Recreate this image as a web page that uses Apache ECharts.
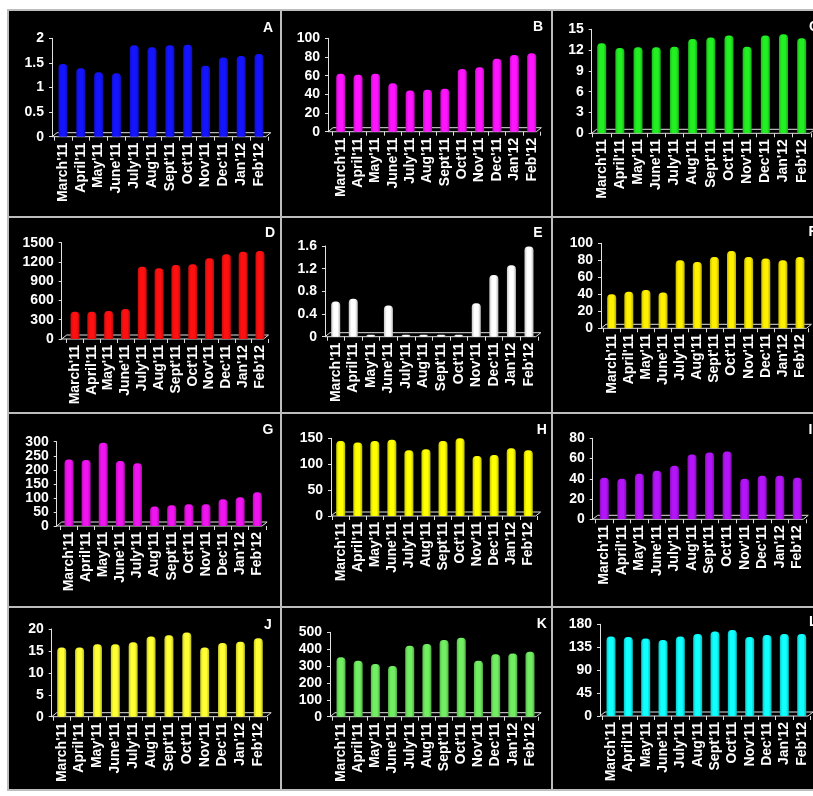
<!DOCTYPE html>
<html>
<head>
<meta charset="utf-8">
<script src="https://cdn.jsdelivr.net/npm/echarts@6/dist/echarts.min.js"></script>
<style>
  html, body { margin: 0; padding: 0; background: #fff; }
  #chart { width: 813px; height: 796px; }
</style>
</head>
<body>
<div id="chart"></div>
<script>
const months = ["March'11", "April'11", "May'11", "June'11", "July'11", "Aug'11", "Sept'11", "Oct'11", "Nov'11", "Dec'11", "Jan'12", "Feb'12"]

const valuesA = [1.48, 1.39, 1.31, 1.29, 1.86, 1.82, 1.86, 1.87, 1.44, 1.61, 1.64, 1.68]
const valuesB = [62, 61, 62, 52, 44, 45, 46, 67, 69, 78, 82, 84]
const valuesC = [13.0, 12.3, 12.4, 12.4, 12.5, 13.6, 13.8, 14.1, 12.5, 14.1, 14.3, 13.7]
const valuesD = [425, 425, 436, 467, 1126, 1101, 1153, 1163, 1257, 1319, 1360, 1371]
const valuesE = [0.62, 0.67, 0, 0.55, 0, 0, 0, 0, 0.59, 1.09, 1.26, 1.59]
const valuesF = [40, 43, 45, 42, 80, 78, 84, 91, 84, 82, 80, 84]
const valuesG = [237, 235, 296, 231, 223, 69, 74, 77, 77, 95, 102, 120]
const valuesH = [145, 142, 145, 147, 127, 129, 145, 156, 116, 118, 131, 127]
const valuesI = [41, 40, 45, 48, 53, 64, 66, 67, 40, 43, 43, 41]
const valuesJ = [15.8, 15.8, 16.5, 16.5, 17.0, 18.3, 18.6, 19.2, 15.8, 16.8, 17.1, 17.9]
const valuesK = [352, 332, 312, 300, 420, 431, 454, 468, 332, 370, 375, 385]
const valuesL = [156, 155, 152, 149, 156, 161, 166, 169, 155, 159, 161, 161]

const panelLetters = ['A', 'B', 'C', 'D', 'E', 'F', 'G', 'H', 'I', 'J', 'K', 'L']
const yMax = [2, 100, 15, 1500, 1.6, 100, 300, 150, 80, 20, 500, 180]
const yStep = [0.5, 20, 3, 300, 0.4, 20, 50, 50, 20, 5, 100, 45]

const allValues = [valuesA, valuesB, valuesC, valuesD, valuesE, valuesF, valuesG, valuesH, valuesI, valuesJ, valuesK, valuesL]
const colors = ['#1414ff', '#ff14ff', '#22f022', '#ff1010', '#ffffff', '#fff000', '#f014f0', '#ffff00', '#b414f8', '#ffff33', '#72ee62', '#10ffff']

// layout per panel: y axis x, first bar x, last bar x, top tick y, zero y, letter x, letter y
const layout = [
  [52, 63, 259, 38.3, 136.7, 268, 28],
  [328, 340.7, 531.7, 38.3, 131.7, 538, 27],
  [591.7, 601.7, 801.7, 29.3, 133.3, 809, 27],
  [61.7, 75, 260, 242.7, 339, 270, 233],
  [325, 335.7, 529, 246, 336.7, 538, 233],
  [601, 611.7, 800, 243.3, 328.3, 808.5, 232],
  [56.7, 69, 257.3, 441.7, 526, 268, 430],
  [331, 340.7, 528.3, 438.3, 516, 541.7, 430],
  [592.7, 604.3, 797.3, 438.3, 519.3, 808.5, 430],
  [51.7, 61.7, 258.3, 629, 716.7, 268, 625],
  [330, 341, 530, 632.3, 716.7, 541.7, 624],
  [600, 611, 801.7, 624.3, 716, 809, 622]
]

const font = 'Liberation Sans, Arial, sans-serif'

function shade (hex, k) {
  let n = parseInt(hex.slice(1), 16)
  let r = Math.round(((n >> 16) & 255) * k)
  let g = Math.round(((n >> 8) & 255) * k)
  let b = Math.round((n & 255) * k)
  return 'rgb(' + r + ',' + g + ',' + b + ')'
}

function cylinder (c) {
  return new echarts.graphic.LinearGradient(0, 0, 1, 0, [
    { offset: 0, color: shade(c, 0.78) },
    { offset: 0.3, color: c },
    { offset: 0.7, color: c },
    { offset: 1, color: shade(c, 0.72) }
  ])
}

let grids = []
let xAxes = []
let yAxes = []
let series = []
let graphics = []

// black panel area and separators
graphics.push({
  type: 'rect', z: -10,
  shape: { x: 8, y: 10, width: 810, height: 780 },
  style: { fill: '#000', stroke: '#bdbdbd', lineWidth: 2 }
})
;[281, 552].forEach(function (x) {
  graphics.push({ type: 'line', z: -5, shape: { x1: x, y1: 10, x2: x, y2: 790 }, style: { stroke: '#bdbdbd', lineWidth: 2 } })
})
;[217, 413, 607].forEach(function (y) {
  graphics.push({ type: 'line', z: -5, shape: { x1: 8, y1: y, x2: 813, y2: y }, style: { stroke: '#bdbdbd', lineWidth: 2 } })
})

layout.forEach(function (p, i) {
  let axisX = p[0]
  let band = (p[2] - p[1]) / 11
  let left = p[1] - band / 2
  grids.push({ left: left, top: p[3], width: band * 12, height: p[4] - p[3] })
  xAxes.push({
    type: 'category',
    gridIndex: i,
    data: months,
    axisLine: { show: false },
    axisTick: { show: true, length: 4, lineStyle: { color: '#e0e0e0' } },
    axisLabel: { interval: 0, rotate: 90, color: '#fff', fontSize: 14, fontWeight: 'bold', fontFamily: font, margin: 6 }
  })
  yAxes.push({
    type: 'value',
    gridIndex: i,
    min: 0,
    max: yMax[i],
    interval: yStep[i],
    offset: left - axisX,
    splitLine: { show: false },
    axisLine: { show: true, lineStyle: { color: '#e0e0e0' } },
    axisTick: { show: true, length: 3, lineStyle: { color: '#e0e0e0' } },
    axisLabel: {
      color: '#fff', fontSize: 14, fontWeight: 'bold', fontFamily: font, margin: 8,
      formatter: function (v) { return String(Math.round(v * 100) / 100) }
    }
  })
  series.push({
    type: 'bar',
    xAxisIndex: i,
    yAxisIndex: i,
    data: allValues[i],
    barWidth: 9,
    barMinHeight: i === 4 ? 2 : 0,
    itemStyle: { color: cylinder(colors[i]), borderRadius: [4, 4, 1, 1] },
    z: 3
  })
  // 3D floor of each panel
  let x0 = axisX
  let x1 = axisX + band * 12
  let y0 = p[4]
  graphics.push({
    type: 'polygon', z: 1,
    shape: { points: [[x0, y0], [x1, y0], [x1 + 5, y0 - 4], [x0 + 5, y0 - 4]] },
    style: { fill: 'rgba(0,0,0,0)', stroke: '#e0e0e0', lineWidth: 1 }
  })
  let rightCol = (i % 3 === 2)
  graphics.push({
    type: 'text', z: 5,
    x: p[5], y: p[6],
    style: {
      text: panelLetters[i], fill: '#fff',
      font: 'bold 14px ' + font,
      textAlign: rightCol ? 'left' : 'center', textVerticalAlign: 'middle'
    }
  })
})

let myChart = echarts.init(document.getElementById('chart'))
let option = {
  backgroundColor: '#fff',
  animation: false,
  grid: grids,
  xAxis: xAxes,
  yAxis: yAxes,
  series: series,
  graphic: graphics
}
myChart.setOption(option)
</script>
</body>
</html>
